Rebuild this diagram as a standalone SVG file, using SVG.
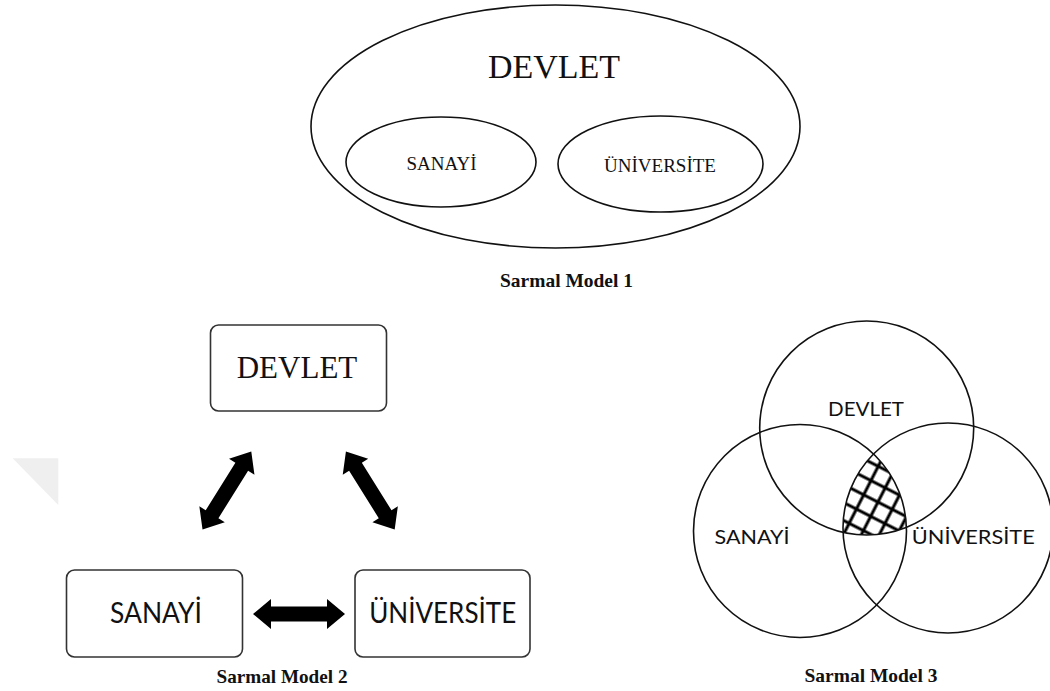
<svg xmlns="http://www.w3.org/2000/svg" width="1050" height="691" viewBox="0 0 1050 691">
<style>
.ln{fill:none;stroke:#111;stroke-width:1.6}
.box{fill:#fff;stroke:#333;stroke-width:1.6}
.serif{font-family:"Liberation Serif","Times New Roman",serif;fill:#111;text-anchor:middle}
.cap{font-family:"Liberation Serif","Times New Roman",serif;font-weight:bold;font-size:19px;fill:#111;text-anchor:middle}
.sans{font-family:Lato,"Noto Sans",sans-serif;fill:#111;text-anchor:middle}
.arrow{fill:#000}
</style>
<defs>
<polygon id="darr" points="-46,0 -28,-15 -28,-7.5 28,-7.5 28,-15 46,0 28,15 28,7.5 -28,7.5 -28,15"/>
<pattern id="hatch" width="16" height="16" patternUnits="userSpaceOnUse" patternTransform="translate(856.7,473.3) rotate(27)">
<rect x="0" y="-1.5" width="16" height="3" fill="#000"/>
<rect x="0" y="14.5" width="16" height="3" fill="#000"/>
<rect x="-1.5" y="0" width="3" height="16" fill="#000"/>
<rect x="14.5" y="0" width="3" height="16" fill="#000"/>
</pattern>
<clipPath id="cTop"><circle cx="866.7" cy="428" r="107"/></clipPath>
<clipPath id="cLeft"><circle cx="800" cy="531" r="106.5"/></clipPath>
<clipPath id="cRight"><circle cx="948" cy="528" r="105"/></clipPath>
</defs>
<rect width="1050" height="691" fill="#fff"/>

<!-- watermark triangle -->
<polygon points="12.7,458.3 58.3,458.3 58.3,505" fill="#efefef"/>

<!-- Model 1 -->
<g id="m1-devlet">
<ellipse class="ln" cx="555.5" cy="126.5" rx="244.5" ry="121.5"/>
<text class="serif" x="554" y="78" font-size="34">DEVLET</text>
</g>
<g id="m1-sanayi">
<ellipse class="ln" cx="441" cy="162" rx="95" ry="45"/>
<text class="serif" x="441.5" y="170" font-size="19">SANAYİ</text>
</g>
<g id="m1-universite">
<ellipse class="ln" cx="660.5" cy="164" rx="102.5" ry="48"/>
<text class="serif" x="660" y="172" font-size="19">ÜNİVERSİTE</text>
</g>
<text class="cap" x="566.5" y="287" textLength="133" lengthAdjust="spacingAndGlyphs">Sarmal Model 1</text>

<!-- Model 2 -->
<g id="m2-devlet">
<rect class="box" x="210.5" y="325" width="176" height="86" rx="8"/>
<text class="serif" x="297" y="378" font-size="31">DEVLET</text>
</g>
<g id="m2-sanayi">
<rect class="box" x="66.5" y="570" width="176" height="87" rx="8"/>
<text class="sans" x="156" y="623" font-size="29" textLength="92" lengthAdjust="spacingAndGlyphs">SANAYİ</text>
</g>
<g id="m2-universite">
<rect class="box" x="355" y="570" width="175" height="87" rx="8"/>
<text class="sans" x="442.7" y="623" font-size="29" textLength="147" lengthAdjust="spacingAndGlyphs">ÜNİVERSİTE</text>
</g>
<g id="m2-connectors">
<use href="#darr" class="arrow" transform="translate(299,614)"/>
<use href="#darr" class="arrow" transform="translate(226.9,490.5) rotate(-58)"/>
<use href="#darr" class="arrow" transform="translate(370.3,490.5) rotate(58)"/>
</g>
<text class="cap" x="282" y="683" textLength="131" lengthAdjust="spacingAndGlyphs">Sarmal Model 2</text>

<!-- Model 3 -->
<g id="m3-hatch" clip-path="url(#cTop)"><g clip-path="url(#cLeft)"><g clip-path="url(#cRight)">
<rect x="830" y="440" width="90" height="100" fill="url(#hatch)"/>
</g></g></g>
<g id="m3-devlet">
<circle class="ln" cx="866.7" cy="428" r="107"/>
<text class="sans" x="866" y="416" font-size="19" textLength="76" lengthAdjust="spacingAndGlyphs">DEVLET</text>
</g>
<g id="m3-sanayi">
<circle class="ln" cx="800" cy="531" r="106.5"/>
<text class="sans" x="752" y="544" font-size="19" textLength="75" lengthAdjust="spacingAndGlyphs">SANAYİ</text>
</g>
<g id="m3-universite">
<circle class="ln" cx="948" cy="528" r="105"/>
<text class="sans" x="973.3" y="544" font-size="19" textLength="123" lengthAdjust="spacingAndGlyphs">ÜNİVERSİTE</text>
</g>
<text class="cap" x="871" y="682" textLength="133" lengthAdjust="spacingAndGlyphs">Sarmal Model 3</text>
</svg>
